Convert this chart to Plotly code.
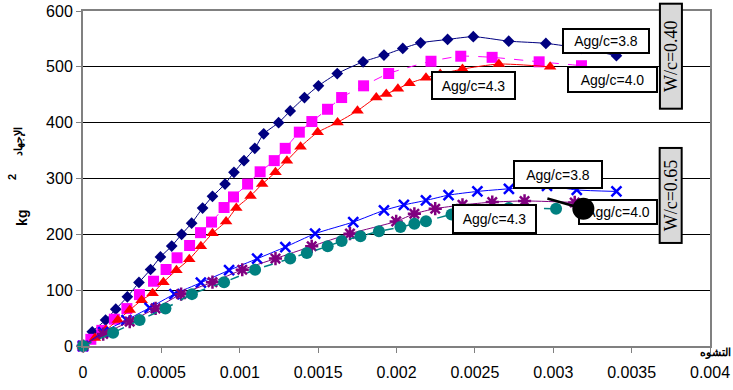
import plotly.graph_objects as go

# ---- data (strain, stress kg/cm2) ----
x_ticks = [0, 0.0005, 0.001, 0.0015, 0.002, 0.0025, 0.003, 0.0035, 0.004]
x_tick_labels = ["0", "0.0005", "0.001", "0.0015", "0.002", "0.0025", "0.003", "0.0035", "0.004"]
y_ticks = [0, 100, 200, 300, 400, 500, 600]

# W/c = 0.40
x_040_38 = [0, 0.000059, 0.000144, 0.000209, 0.000283, 0.000357, 0.000431, 0.000494, 0.000566, 0.000629,
            0.000693, 0.000763, 0.000826, 0.000906, 0.000963, 0.001027, 0.001096, 0.001153, 0.001248, 0.001322,
            0.001413, 0.001502, 0.001622, 0.001787, 0.001920, 0.002040, 0.002154, 0.002326, 0.002490, 0.002716,
            0.002953, 0.003181, 0.003403]
y_040_38 = [0, 25.5, 46.4, 66, 88, 113.8, 137, 159.5, 179, 200,
            220, 247, 268, 290, 311, 332, 354, 380, 400, 421,
            445, 466, 488, 509, 521, 533, 543, 549, 554, 546,
            542, 533, 520]

x_040_40 = [0, 0.00005, 0.00012, 0.00020, 0.00028, 0.00036, 0.00045, 0.00053, 0.00060, 0.00068,
            0.00075, 0.00082, 0.00090, 0.00096, 0.00105, 0.00113, 0.00122, 0.00129, 0.00138, 0.00146,
            0.00156, 0.00165, 0.00179, 0.00195, 0.00222, 0.00241, 0.00261, 0.00291, 0.00318, 0.00354]
y_040_40 = [0, 12, 28, 48, 67, 92, 116, 137, 158, 180,
            203, 222, 248, 267, 290, 312, 332, 354, 383, 402,
            424, 445, 466, 488, 510, 519, 517, 509, 502, 489]

x_040_43 = [0, 0.000076, 0.000146, 0.000222, 0.000298, 0.000374, 0.000444, 0.000513, 0.000596, 0.000678,
            0.000752, 0.000826, 0.000913, 0.000978, 0.001069, 0.001143, 0.001228, 0.001301, 0.001388, 0.001497,
            0.001624, 0.001751, 0.001871, 0.001935, 0.002009, 0.002083, 0.002188, 0.002279, 0.002421, 0.002653,
            0.002980]
y_040_43 = [0, 14.3, 28.6, 46.4, 64.3, 82.1, 94.6, 114.3, 135.7, 155.4,
            178.6, 201.8, 223.2, 247.3, 268.8, 290, 311, 332, 357, 382.7,
            400.5, 421.4, 445.2, 451.3, 460.7, 470.5, 480.4, 487, 496, 505,
            500]

# W/c = 0.65
x_065_38 = [0, 0.000129, 0.000277, 0.000425, 0.000583, 0.000752, 0.000932, 0.001111, 0.001291, 0.001481,
            0.001724, 0.001920, 0.002047, 0.002188, 0.002332, 0.002516, 0.002717, 0.002960, 0.003150, 0.003403]
y_065_38 = [0, 25, 46.4, 68.4, 92.9, 113.4, 135.7, 156.3, 177.3, 201.2,
            222, 242.9, 252.7, 260.7, 270.2, 276.8, 281.6, 286.6, 279.5, 276.8]

x_065_40 = [0, 0.000129, 0.000298, 0.000463, 0.000626, 0.000826, 0.001016, 0.001228, 0.001459, 0.001703,
            0.001998, 0.002114, 0.002247, 0.002421, 0.002611, 0.002817, 0.003137]
y_065_40 = [0, 21.4, 43.75, 67.3, 92.9, 114.3, 136.6, 156.6, 178.6, 201.2,
            223.2, 236.9, 245.9, 252.7, 257.7, 259.8, 257.1]

x_065_43 = [0, 0.000192, 0.000361, 0.000526, 0.000695, 0.000900, 0.001098, 0.001322, 0.001428, 0.001561,
            0.001650, 0.001770, 0.001888, 0.002025, 0.002114, 0.002188, 0.002351, 0.002516, 0.002717, 0.003018]
y_065_43 = [0, 23.75, 46.4, 67.3, 92.9, 114.3, 136.6, 156.6, 166.6, 178.6,
            188, 196.4, 205.4, 213, 219.1, 223.6, 235.7, 242.9, 247, 245.9]

FONT = "Arial, Liberation Sans, sans-serif"
SERIF = "Times New Roman, Liberation Serif, serif"

fig = go.Figure()

def add(x, y, color, symbol, size, dash="solid", lw=1, mline=0, mcolor=None):
    fig.add_trace(go.Scatter(
        x=x, y=y, mode="lines+markers",
        line=dict(color=color, width=lw, dash=dash, shape="spline", smoothing=0.6),
        marker=dict(symbol=symbol, size=size, color=mcolor or color,
                    line=dict(width=mline, color=mcolor or color)),
        showlegend=False, cliponaxis=False))

add(x_040_38, y_040_38, "#000080", "diamond", 9)
add(x_040_40, y_040_40, "#FF00FF", "square", 11, dash="dash")
add(x_040_43, y_040_43, "#FF0000", "triangle-up", 11)
add(x_065_38, y_065_38, "#0000FF", "x-thin-open", 10, mline=2.5)
add(x_065_40, y_065_40, "#800080", "asterisk-open", 11, mline=2.5)
add(x_065_43, y_065_43, "#008080", "circle", 12, dash="dash", lw=1.5)

def box(x, y, text, w, h):
    fig.add_annotation(x=x, y=y, xref="x", yref="y", text=text, showarrow=False,
                       font=dict(family=FONT, size=14, color="black"),
                       bgcolor="white", bordercolor="black", borderwidth=2, borderpad=0,
                       width=w - 4, height=h - 4, align="center", valign="middle")

box(0.003337, 545.9, "Agg/c=3.8", 88, 26)
box(0.003379, 476.8, "Agg/c=4.0", 91, 27)
box(0.002489, 466.0, "Agg/c=4.3", 85, 29)
box(0.003029, 307.5, "Agg/c=3.8", 90, 29)
box(0.003414, 240.7, "Agg/c=4.0", 80, 26)
box(0.002627, 226.8, "Agg/c=4.3", 85, 30)

# arrow with round head pointing at W/c=0.65, Agg/c=4.0 curve
fig.add_annotation(x=0.003192, y=245.9, ax=0.002953, ay=264.8, xref="x", yref="y",
                   axref="x", ayref="y", text="", showarrow=True,
                   arrowhead=6, arrowsize=2.2, arrowwidth=2.5, arrowcolor="black", standoff=0)

def wc(x, y, text, h):
    fig.add_annotation(x=x, y=y, xref="x", yref="y", text=text, showarrow=False, textangle=-90,
                       font=dict(family=SERIF, size=18, color="black"),
                       bgcolor="#D9D9D9", bordercolor="black", borderwidth=2, borderpad=0,
                       width=h - 4, height=20)

wc(0.00375, 519.6, "W/c=0.40", 107)
wc(0.00375, 270.2, "W/c=0.65", 97)

# axis titles
def lab(x, y, text, size, angle=-90):
    fig.add_annotation(x=x, y=y, xref="paper", yref="paper", text=text, showarrow=False,
                       textangle=angle, xanchor="center", yanchor="middle",
                       font=dict(family=FONT, size=size, color="black"))

lab(-0.102, 0.61, "<b>الإجهاد</b>", 11)
lab(-0.113, 0.505, "<b>2</b>", 11)
lab(-0.097, 0.383, "<b>kg</b>", 14)
lab(1.008, -0.018, "<b>التشوه</b>", 11, angle=0)

fig.update_layout(
    width=733, height=390,
    margin=dict(l=83, r=23, t=11, b=44, autoexpand=False),
    paper_bgcolor="white", plot_bgcolor="white",
    font=dict(family=FONT, size=16, color="black"),
    xaxis=dict(range=[0, 0.004], tickvals=x_ticks, ticktext=x_tick_labels, automargin=False,
               showgrid=False, zeroline=False, showline=True, linecolor="#808080", linewidth=2,
               mirror=True, ticks="outside", ticklen=5, tickcolor="#808080",
               ticklabelstandoff=6, tickfont=dict(size=16)),
    yaxis=dict(range=[0, 600], tickvals=y_ticks, automargin=False,
               showgrid=True, gridcolor="black", gridwidth=1, zeroline=False,
               showline=True, linecolor="#808080", linewidth=2, mirror=True,
               ticks="outside", ticklen=5, tickcolor="#808080", tickfont=dict(size=16)),
)

fig.write_html("out.html", config={"displayModeBar": False},
               post_script="document.body.style.margin='0';document.body.style.overflow='hidden';")
